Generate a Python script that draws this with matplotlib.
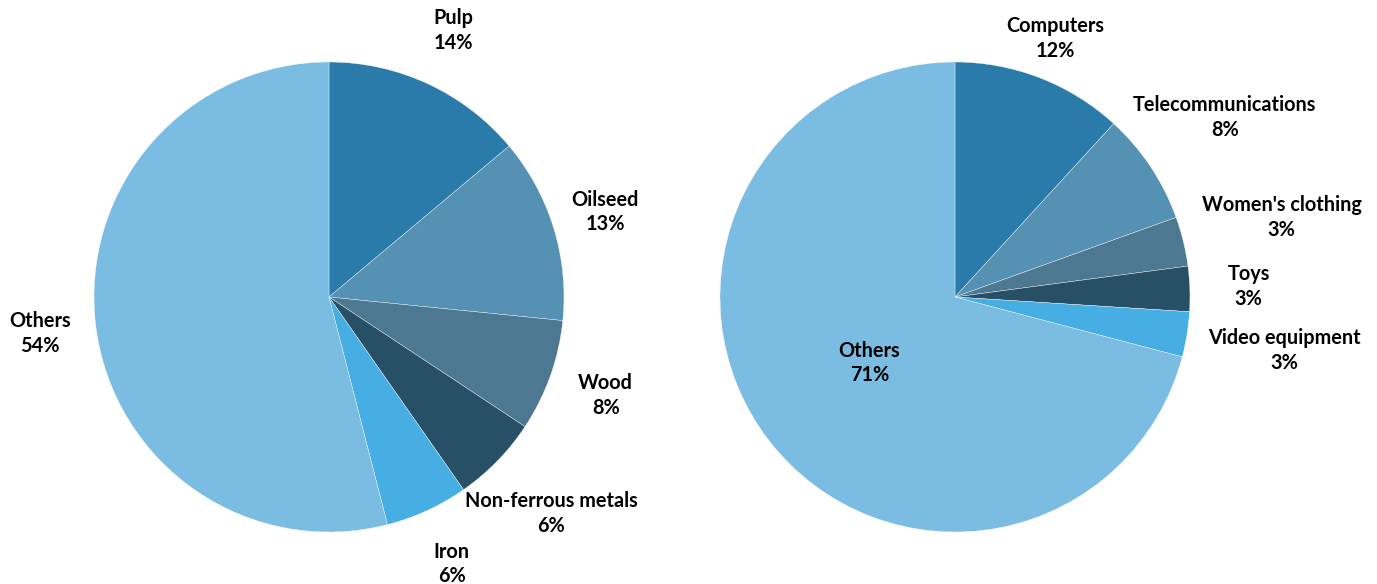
import matplotlib
matplotlib.use('Agg')
import numpy as np
import matplotlib.pyplot as plt

# Data
left_labels = ['Pulp', 'Oilseed', 'Wood', 'Non-ferrous metals', 'Iron', 'Others']
left_values = [13.9, 12.7, 7.7, 6.0, 5.7, 54.0]
right_labels = ['Computers', 'Telecommunications', "Women's clothing", 'Toys', 'Video equipment', 'Others']
right_values = [11.8, 7.7, 3.4, 3.1, 3.1, 70.9]
left_pct = ['14%', '13%', '8%', '6%', '6%', '54%']
right_pct = ['12%', '8%', '3%', '3%', '3%', '71%']

colors = ['#2A7BAA', '#5591B2', '#4D7891', '#275066', '#47AEE3', '#7BBCE2']

# label distances (fraction of radius)
left_dist = [1.25, 1.23, 1.25, 1.32, 1.25, 1.24]
right_dist = [1.18, 1.38, 1.43, 1.25, 1.42, 0.46]

plt.rcParams['font.family'] = ['Lato', 'DejaVu Sans']

fig = plt.figure(figsize=(13.77, 5.84), dpi=100)
W, H = 1377, 584
R = 235


def draw(cx, cy, labels, values, pcts, dists):
    ax = fig.add_axes([(cx - R) / W, (H - cy - R) / H, 2 * R / W, 2 * R / H])
    wedges, texts = ax.pie(values, colors=colors, startangle=90, counterclock=False,
                           labels=[f'{l}\n{p}' for l, p in zip(labels, pcts)],
                           wedgeprops=dict(edgecolor='white', linewidth=0.25),
                           textprops=dict(fontsize=14.3, fontweight='bold', color='black',
                                          linespacing=1.3))
    for t, w, d in zip(texts, wedges, dists):
        ang = np.deg2rad((w.theta1 + w.theta2) / 2)
        t.set_position((d * np.cos(ang), d * np.sin(ang)))
        t.set_ha('center')
        t.set_va('center')
        t.set_clip_on(False)
    ax.set_xlim(-1, 1)
    ax.set_ylim(-1, 1)
    ax.set_aspect('equal')
    ax.axis('off')


draw(329, 297, left_labels, left_values, left_pct, left_dist)
draw(955, 297, right_labels, right_values, right_pct, right_dist)

plt.savefig('out.png', dpi=100)
